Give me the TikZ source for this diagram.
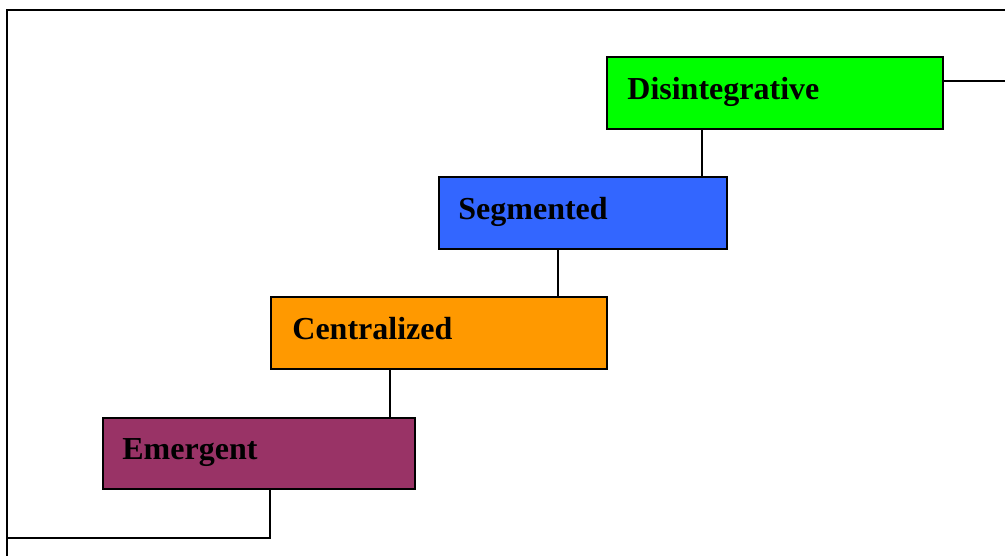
\documentclass[tikz,border=0pt]{standalone}
\usepackage{fontspec}
\setmainfont{Liberation Serif}
\definecolor{cGreen}{HTML}{00FF00}
\definecolor{cBlue}{HTML}{3366FF}
\definecolor{cOrange}{HTML}{FF9900}
\definecolor{cPlum}{HTML}{993366}
\begin{document}
\begin{tikzpicture}[x=1pt,y=-1pt,
  stage/.style={draw=black,line width=1.6pt,inner sep=0pt,minimum height=72pt},
  stagetext/.style={anchor=base west,inner sep=0pt,font=\fontsize{32}{36}\selectfont\bfseries},
  link/.style={draw=black,line width=1.8pt},
  frame/.style={draw=black,line width=2pt}]
\useasboundingbox (0,0) rectangle (1005,556);
% stages
\node[stage,fill=cGreen,minimum width=336pt] (D) at (775,93) {};
\node[stage,fill=cBlue,minimum width=288pt] (S) at (583,213) {};
\node[stage,fill=cOrange,minimum width=336pt] (C) at (439,333) {};
\node[stage,fill=cPlum,minimum width=312pt,minimum height=71pt] (E) at (259,453.5) {};
% labels
\node[stagetext] (tD) at ([xshift=21pt,yshift=-43pt]D.north west) {Disintegrative};
\node[stagetext] (tS) at ([xshift=20pt,yshift=-43pt]S.north west) {Segmented};
\node[stagetext] (tC) at ([xshift=22pt,yshift=-43pt]C.north west) {Centralized};
\node[stagetext] (tE) at ([xshift=20pt,yshift=-42pt]E.north west) {Emergent};
% frame corners and exits
\coordinate (tl) at (7,10);
\coordinate (tr) at (1005,10);
\coordinate (bl) at (7,556);
\coordinate (foot) at (7,538);
\coordinate (exitR) at (1005,81);
\draw[frame] (tr) -- (tl) -- (bl);
% links between stages
\draw[link] ([xshift=96pt]D.south west) -- ([xshift=264pt]S.north west);
\draw[link] ([xshift=120pt]S.south west) -- ([xshift=288pt]C.north west);
\draw[link] ([xshift=120pt]C.south west) -- ([xshift=288pt]E.north west);
\draw[link] ([xshift=168pt]E.south west) |- (foot);
\draw[link] ([yshift=12pt]D.east) -- (exitR);
\end{tikzpicture}
\end{document}
